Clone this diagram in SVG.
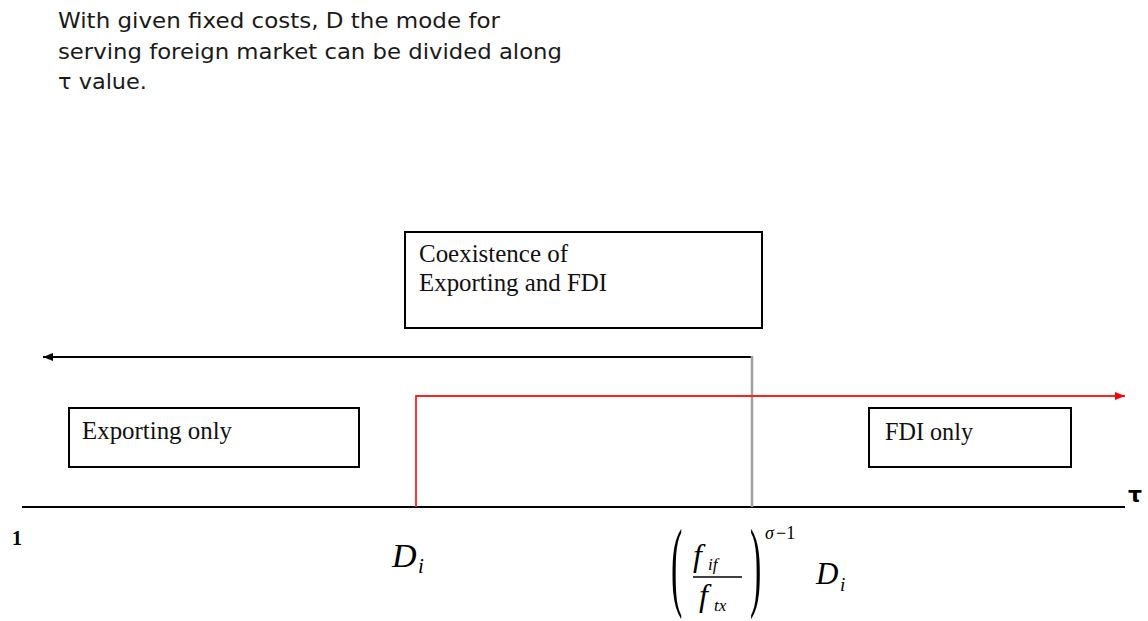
<svg xmlns="http://www.w3.org/2000/svg" width="1148" height="621" viewBox="0 0 1148 621">
  <defs>
    <style>
      .title { font-family: "DejaVu Sans", "Liberation Sans", sans-serif; font-size: 21px; fill: #1a1a1a; }
      .box { fill: #ffffff; stroke: #000000; stroke-width: 2; }
      .lbl { font-family: "Liberation Serif", "Times New Roman", serif; font-size: 25px; fill: #111111; }
      .math { font-family: "Liberation Serif", "Times New Roman", serif; font-style: italic; fill: #000000; }
      .paren { font-family: "Liberation Serif", "Times New Roman", serif; font-size: 100px; fill: #000000; }
      .axis { stroke: #000000; stroke-width: 2; fill: none; }
    </style>
    <marker id="arrBlack" markerUnits="userSpaceOnUse" markerWidth="12" markerHeight="10" refX="10" refY="4" orient="auto">
      <path d="M0,0 L10,4 L0,8 z" fill="#000000"/>
    </marker>
    <marker id="arrRed" markerUnits="userSpaceOnUse" markerWidth="12" markerHeight="10" refX="10" refY="4" orient="auto">
      <path d="M0,0 L10,4 L0,8 z" fill="#ff0000"/>
    </marker>
  </defs>

  <rect width="1148" height="621" fill="#ffffff"/>

  <g id="title">
    <text class="title" x="58" y="28" textLength="442" lengthAdjust="spacingAndGlyphs">With given fixed costs, D the mode for</text>
    <text class="title" x="58" y="59" textLength="504" lengthAdjust="spacingAndGlyphs">serving foreign market can be divided along</text>
    <text class="title" x="58" y="89" textLength="89" lengthAdjust="spacingAndGlyphs">τ value.</text>
  </g>

  <g id="connectors">
    <line class="axis" x1="22" y1="507" x2="1125" y2="507"/>
    <line x1="752" y1="357" x2="43" y2="357" stroke="#000000" stroke-width="2" marker-end="url(#arrBlack)"/>
    <line x1="752" y1="356" x2="752" y2="507" stroke="#a0a0a0" stroke-width="2.5"/>
    <path d="M416,507 V396 H1125" fill="none" stroke="#ff2020" stroke-width="1.8" marker-end="url(#arrRed)"/>
  </g>

  <g id="coexistence">
    <rect class="box" x="405" y="232" width="357" height="96"/>
    <text class="lbl" x="419" y="262" textLength="149" lengthAdjust="spacingAndGlyphs">Coexistence of</text>
    <text class="lbl" x="419" y="291" textLength="188" lengthAdjust="spacingAndGlyphs">Exporting and FDI</text>
  </g>

  <g id="exporting-only">
    <rect class="box" x="69" y="408" width="290" height="59"/>
    <text class="lbl" x="82" y="439" textLength="150" lengthAdjust="spacingAndGlyphs">Exporting only</text>
  </g>

  <g id="fdi-only">
    <rect class="box" x="869" y="408" width="202" height="59"/>
    <text class="lbl" x="885" y="440" textLength="88" lengthAdjust="spacingAndGlyphs">FDI only</text>
  </g>

  <g id="axis-labels">
    <text x="1128" y="502" font-family="DejaVu Sans, sans-serif" font-weight="bold" font-size="22" fill="#000000">τ</text>
    <text x="12" y="545" font-family="Liberation Serif, serif" font-weight="bold" font-size="20" fill="#000000">1</text>
  </g>

  <g id="label-Di">
    <text class="math" x="392" y="567" font-size="34">D</text>
    <text class="math" x="418" y="573" font-size="21">i</text>
  </g>

  <g id="label-threshold">
    <text class="paren" transform="translate(671,598) scale(0.34,1)">(</text>
    <text class="paren" transform="translate(750,598) scale(0.34,1)">)</text>
    <text class="math" x="693" y="566" font-size="32">f</text>
    <text class="math" x="708" y="570" font-size="17">if</text>
    <line x1="693" y1="577" x2="742" y2="577" stroke="#000000" stroke-width="1.6"/>
    <text class="math" x="699" y="606" font-size="32">f</text>
    <text class="math" x="714" y="611" font-size="17">tx</text>
    <text class="math" x="765" y="539" font-size="18">σ</text>
    <text x="776" y="539" font-family="Liberation Serif, serif" font-size="18" fill="#000000">−1</text>
    <text class="math" x="816" y="584" font-size="31">D</text>
    <text class="math" x="840" y="591" font-size="19">i</text>
  </g>
</svg>
